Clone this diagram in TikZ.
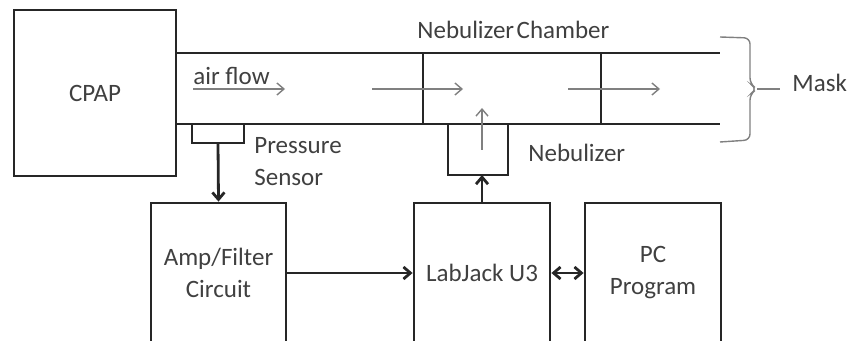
\documentclass[tikz,border=0pt]{standalone}
\usepackage{fontspec}
\setmainfont{Carlito}
\usetikzlibrary{arrows.meta, positioning, calc}

\begin{document}
\begin{tikzpicture}[
    x=0.5pt, y=-0.5pt,
    font=\fontsize{12.5}{16}\selectfont,
    block/.style={rectangle, draw=black!85, line width=1.4pt, align=center, text=black!75, inner sep=0pt},
    lbl/.style={text=black!75, inner sep=0pt, align=left},
    pipe/.style={draw=black!85, line width=1.4pt},
    flow/.style={draw=black!50, line width=0.7pt, -{Straight Barb[length=3.5pt, width=6pt]}},
    sig/.style={draw=black!85, line width=1.4pt, -{Straight Barb[length=3.5pt, width=6pt]}}
]
    \useasboundingbox (0,0) rectangle (850,341);
    \clip (0,0) rectangle (850,341);

    % Blocks
    \node[block, minimum width=81pt, minimum height=83pt] (cpap) at (95,93) {CPAP};
    \node[block, minimum width=67.5pt, minimum height=70pt] (amp) at (218.5,273) {Amp/Filter\\Circuit};
    \node[block, minimum width=68pt, minimum height=70pt] (lab) at (482,273) {LabJack U3};
    \node[block, minimum width=68pt, minimum height=70pt] (pc) at (653,273) {PC\\Program};

    % Tube with nebulizer chamber
    \draw[pipe] (cpap.east |- 0,53) -- (720,53);
    \draw[pipe] (cpap.east |- 0,124) -- (720,124);
    \draw[pipe] (423,53) -- (423,124);
    \draw[pipe] (601,53) -- (601,124);

    % Pressure sensor and nebulizer cups
    \draw[pipe] (192,124) -- (192,143) -- (244,143) -- (244,124);
    \coordinate (ps) at (218,143);
    \draw[pipe] (448,124) -- (448,175) -- (508,175) -- (508,124);
    \coordinate (neb) at (482,175);

    % Air flow
    \foreach \a/\b in {193/285, 372/463, 568/660}
        \draw[flow] (\a,89) -- (\b,89);
    \draw[flow] (482,150) -- (482,108);

    % Mask brace
    \coordinate (mtop) at (720,37);
    \coordinate (mbot) at (720,142);
    \coordinate (mtip) at (780,89);
    \draw[draw=black!50, line width=0.7pt, rounded corners=3pt]
        (mtop) -- (750,38) -- (750,84) -- (757,89) -- (750,94) -- (750,140) -- (mbot);
    \draw[draw=black!50, line width=0.7pt] (757,89) -- (mtip);

    % Labels
    \node[lbl, anchor=base west] (airlbl) at (193,85) {air flow};
    \node[lbl, anchor=base west] (chlbl) at (417,39) {Nebulizer\hspace{0.1em}Chamber};
    \node[lbl, anchor=base west] (neblbl) at (528,162) {Nebulizer};
    \node[lbl, anchor=west] (pslbl) at (254,162) {Pressure\\Sensor};
    \node[lbl, anchor=base west] (masklbl) at (792,92) {Mask};

    % Edges
    \draw[sig] (ps) -- (amp.north);
    \draw[sig] (lab.north) -- (neb);
    \draw[sig] (amp) -- (lab);
    \draw[sig, {Straight Barb[length=3.5pt, width=6pt]}-{Straight Barb[length=3.5pt, width=6pt]}] (lab) -- (pc);
\end{tikzpicture}
\end{document}
